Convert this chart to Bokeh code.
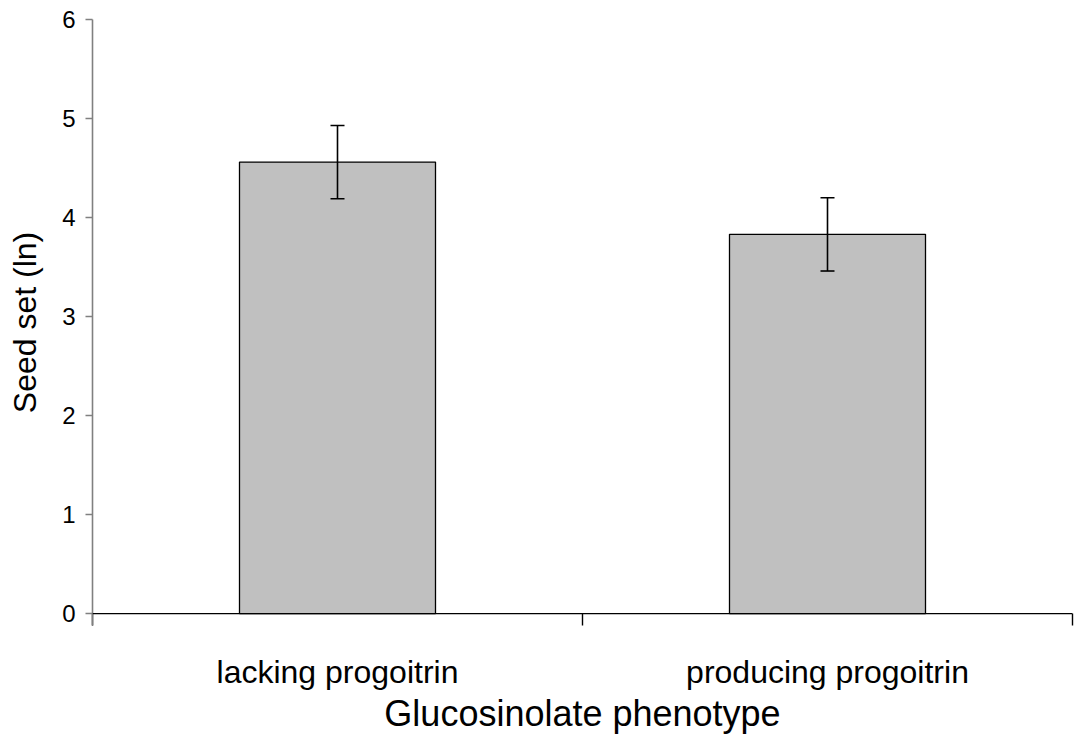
from bokeh.plotting import figure
from bokeh.models import (ColumnDataSource, FixedTicker, Range1d, Span,
                          Whisker, TeeHead)
from bokeh.embed import file_html
from bokeh.resources import INLINE

# Seed set (ln) by glucosinolate phenotype, mean with standard error
categories = ["lacking progoitrin", "producing progoitrin"]
means = [4.56, 3.83]
errors = [0.37, 0.37]
y_ticks = [0, 1, 2, 3, 4, 5, 6]

xs = [i + 0.5 for i in range(len(categories))]
source = ColumnDataSource(data=dict(
    x=xs,
    top=means,
    lower=[m - e for m, e in zip(means, errors)],
    upper=[m + e for m, e in zip(means, errors)],
))

FONT = "Liberation Sans"

p = figure(width=1077, height=740, output_backend="svg", toolbar_location=None,
           x_range=Range1d(0, len(categories)), y_range=Range1d(-0.12, 6),
           min_border_left=92, min_border_right=5, min_border_top=19,
           min_border_bottom=115)
p.outline_line_color = None
p.xgrid.grid_line_color = None
p.ygrid.grid_line_color = None
p.background_fill_color = "white"
p.border_fill_color = "white"

p.vbar(x="x", top="top", bottom=0, width=0.4, source=source,
       fill_color="#C0C0C0", line_color="black", line_width=1.3)

p.add_layout(Whisker(base="x", lower="lower", upper="upper", source=source,
                     level="overlay", line_color="black", line_width=1.6,
                     upper_head=TeeHead(size=14, line_color="black", line_width=1.6),
                     lower_head=TeeHead(size=14, line_color="black", line_width=1.6)))

# baseline of the category axis
p.add_layout(Span(location=0, dimension="width", line_color="black", line_width=1.4))

# x axis: category labels at centres, separator ticks at the boundaries
xa = p.xaxis[0]
xa.ticker = FixedTicker(ticks=xs, minor_ticks=list(range(len(categories) + 1)))
xa.major_label_overrides = {x: c for x, c in zip(xs, categories)}
xa.axis_line_color = None
xa.major_tick_line_color = None
xa.minor_tick_line_color = "black"
xa.minor_tick_line_width = 1.4
xa.minor_tick_in = 12
xa.minor_tick_out = 0
xa.major_label_standoff = 22
xa.major_label_text_font = FONT
xa.major_label_text_font_size = "32px"
xa.major_label_text_color = "black"
xa.axis_label = "Glucosinolate phenotype"
xa.axis_label_text_font = FONT
xa.axis_label_text_font_size = "36px"
xa.axis_label_text_font_style = "normal"
xa.axis_label_text_color = "black"
xa.axis_label_standoff = 0

ya = p.yaxis[0]
ya.ticker = FixedTicker(ticks=y_ticks, minor_ticks=[])
ya.axis_line_color = "#808080"
ya.axis_line_width = 1.6
ya.major_tick_line_color = "#808080"
ya.major_tick_line_width = 1.4
ya.major_tick_in = 0
ya.major_tick_out = 7
ya.major_label_standoff = 10
ya.major_label_text_font = FONT
ya.major_label_text_font_size = "24px"
ya.major_label_text_color = "black"
ya.axis_label = "Seed set (ln)"
ya.axis_label_text_font = FONT
ya.axis_label_text_font_size = "32px"
ya.axis_label_text_font_style = "normal"
ya.axis_label_text_color = "black"
ya.axis_label_standoff = 16

open("out.html", "w").write(file_html(p, INLINE))
